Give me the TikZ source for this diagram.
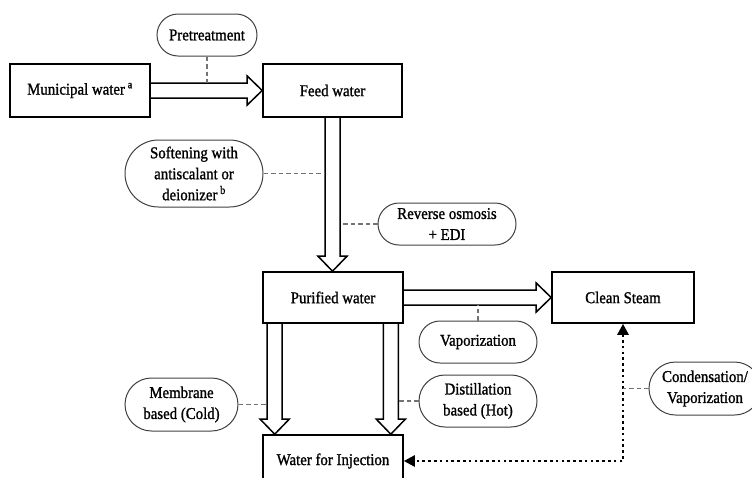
\documentclass[tikz,border=0pt]{standalone}
\usepackage{fontspec}
\setmainfont{Liberation Serif}[FakeStretch=0.9, FakeBold=1.2]
\usetikzlibrary{shapes.misc,calc,arrows.meta}
\begin{document}
\begin{tikzpicture}[x=1pt,y=-1pt,
  every node/.style={font=\fontsize{16.5}{21}\selectfont, inner sep=0pt, align=center},
  box/.style={draw, line width=1.6pt, minimum width=#1, minimum height=52pt},
  box/.default=140pt,
  pill/.style={draw=black!75, line width=1pt, rounded rectangle, minimum width=#1},
  dashline/.style={draw=black!55, line width=1.4pt, dash pattern=on 4.5pt off 3pt},
  hollow/.style={draw, line width=1.5pt, line join=miter},
  hollowright/.style={to path={let \p1=(\tikztostart), \p2=(\tikztotarget) in
    (\x1,\y1+7.5pt) -- (\x2-15pt,\y1+7.5pt) -- (\x2-15pt,\y1+14.5pt) -- (\x2,\y1)
    -- (\x2-15pt,\y1-14.5pt) -- (\x2-15pt,\y1-7.5pt) -- (\x1,\y1-7.5pt)}},
  hollowdown/.style={to path={let \p1=(\tikztostart), \p2=(\tikztotarget) in
    (\x1-7.5pt,\y1) -- (\x1-7.5pt,\y2+15pt) -- (\x1-14.5pt,\y2+15pt) -- (\x1,\y2)
    -- (\x1+14.5pt,\y2+15pt) -- (\x1+7.5pt,\y2+15pt) -- (\x1+7.5pt,\y1)}},
  dotarrow/.style={draw, line width=2.6pt, dash pattern=on 2.6pt off 3.2pt,
    {Triangle[length=11pt,width=11pt]}-{Triangle[length=11pt,width=11pt]}}
]
\useasboundingbox (0,0) rectangle (752,477);

% main boxes
\node[box, minimum height=53pt] (mun) at (80,90.5) {Municipal water\,\textsuperscript{a}};
\node[box=139pt, minimum height=53pt] (feed) at (332.5,90.5) {Feed water};
\node[box, minimum height=51pt] (pw) at (333,297.5) {Purified water};
\node[box=142pt, minimum height=51pt] (cs) at (623,297.5) {Clean Steam};
\node[box] (wfi) at (333,461) {Water for Injection};

% process labels
\node[pill=100pt, minimum height=42pt] (pre) at (207,35) {Pretreatment};
\node[pill=138pt, minimum height=67pt] (soft) at (194,173.5) {Softening with\\antiscalant or\\deionizer\,\textsuperscript{b}};
\node[pill=138pt, minimum height=42pt] (ro) at (447,224) {Reverse osmosis\\+ EDI};
\node[pill=118pt, minimum height=42pt] (vap) at (478,342) {Vaporization};
\node[pill=113pt, minimum height=53pt] (mem) at (181.5,404.5) {Membrane\\based (Cold)};
\node[pill=118pt, minimum height=52pt] (dist) at (478,401) {Distillation\\based (Hot)};
\node[pill=112pt, minimum height=53pt] (cond) at (705,388.5) {Condensation/\\Vaporization};

% helper coordinates
\coordinate (l1) at ($(pw.south west)+(12.5,0)$);
\coordinate (l2) at (l1 |- wfi.north);
\coordinate (r1) at ($(pw.south east)+(-13,0)$);
\coordinate (r2) at (r1 |- wfi.north);
\coordinate (a1) at ($(mun.east)+(0,-7.5)$);
\coordinate (s1) at ($(feed.south)+(-7.5,0)$);
\coordinate (s2) at ($(feed.south)+(7.5,0)$);
\coordinate (b1) at ($(pw.east)+(0,7.5)$);
\coordinate (c1) at ($(l1)+(-7.5,0)$);
\coordinate (c2) at ($(r1)+(7.5,0)$);

% hollow arrows
\draw[hollow] (mun.east) to[hollowright] (feed.west);
\draw[hollow] (feed.south) to[hollowdown] (pw.north);
\draw[hollow] (pw.east) to[hollowright] (cs.west);
\draw[hollow] (l1) to[hollowdown] (l2);
\draw[hollow] (r1) to[hollowdown] (r2);

% dotted loop
\draw[dotarrow] (cs.south) |- (wfi.east);

% dashed leaders
\draw[dashline] (pre.south) -- (pre.south |- a1);
\draw[dashline] (soft.east) -- (soft.east -| s1);
\draw[dashline] (ro.west) -- (ro.west -| s2);
\draw[dashline] (vap.north) -- (vap.north |- b1);
\draw[dashline] (mem.east) -- (mem.east -| c1);
\draw[dashline] (dist.west) -- (dist.west -| c2);
\draw[dashline] (cond.west) -- (cond.west -| cs.south);
\end{tikzpicture}
\end{document}
